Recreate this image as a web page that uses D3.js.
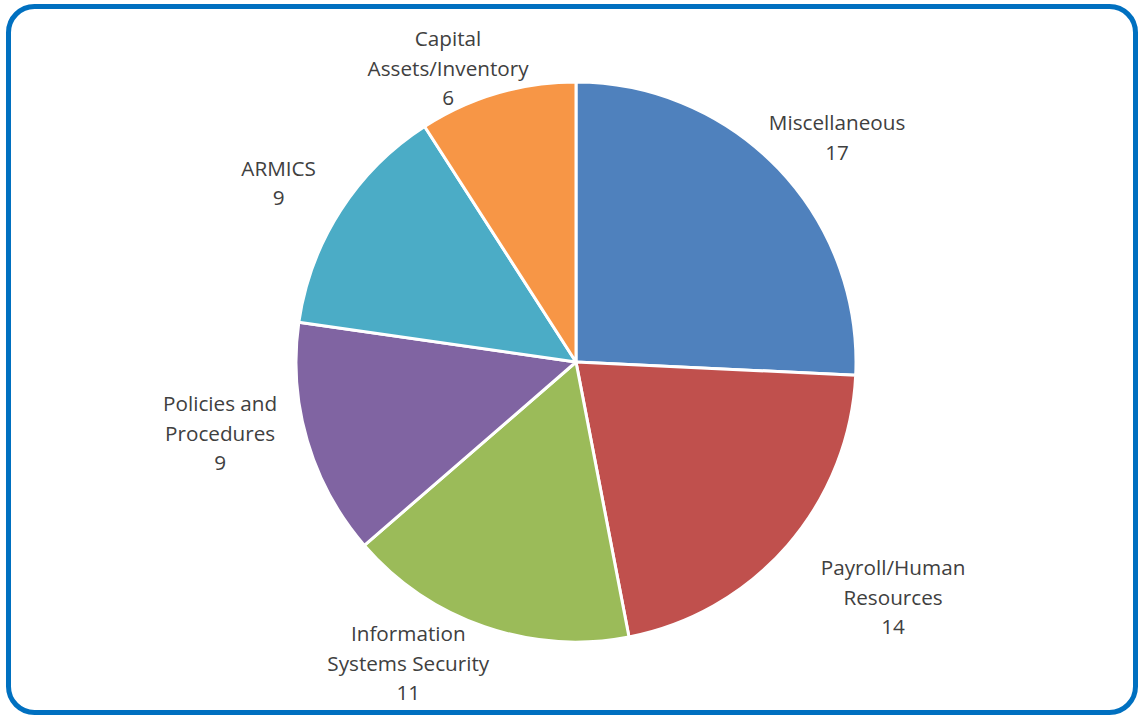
<!DOCTYPE html>
<html><head><meta charset="utf-8">
<script src="https://cdn.jsdelivr.net/npm/d3@7"></script>
<style>body{margin:0;background:#fff}svg{display:block}</style>
</head><body>
<svg id="c" width="1138" height="717"></svg>
<script>
const categories = ["Miscellaneous", "Payroll/Human Resources", "Information Systems Security", "Policies and Procedures", "ARMICS", "Capital Assets/Inventory"];
const labelLines = [["Miscellaneous"], ["Payroll/Human", "Resources"], ["Information", "Systems Security"], ["Policies and", "Procedures"], ["ARMICS"], ["Capital", "Assets/Inventory"]];
const values = [17, 14, 11, 9, 9, 6];
const colors = ["#4F81BD", "#C0504D", "#9BBB59", "#8064A2", "#4BACC6", "#F79646"];
// label placement: [angle offset in degrees from slice mid, radius]
const labelLayout = [[3, 344], [-4.3, 395], [10, 345], [5, 363], [-1.7, 347], [-7.2, 320]];

const svg = d3.select("#c");
svg.append("rect").attr("x", 8.5).attr("y", 6.5).attr("width", 1127).attr("height", 706)
  .attr("rx", 26).attr("fill", "#fff").attr("stroke", "#0070C0").attr("stroke-width", 5);

const cx = 576, cy = 362, r = 280;
const g = svg.append("g").attr("transform", `translate(${cx},${cy})`);
const pie = d3.pie().sort(null).value(d => d);
const arcs = pie(values);
const arc = d3.arc().innerRadius(0).outerRadius(r);
g.selectAll("path").data(arcs).join("path")
  .attr("d", arc).attr("fill", (d, i) => colors[i])
  .attr("stroke", "#fff").attr("stroke-width", 3).attr("stroke-linejoin", "round");

const lineH = 29.5;
arcs.forEach((d, i) => {
  const mid = (d.startAngle + d.endAngle) / 2 + labelLayout[i][0] * Math.PI / 180;
  const rr = labelLayout[i][1];
  const x = Math.sin(mid) * rr, y = -Math.cos(mid) * rr;
  const lines = labelLines[i].concat([String(values[i])]);
  const t = g.append("text").attr("text-anchor", "middle")
    .attr("font-family", "'Open Sans', 'Liberation Sans', sans-serif").attr("font-size", 20.7)
    .attr("fill", "#404040");
  const y0 = y - (lines.length - 1) * lineH / 2;
  lines.forEach((l, j) => {
    t.append("tspan").attr("x", x).attr("y", y0 + j * lineH).attr("dy", "0.35em").text(l);
  });
});
</script>
</body></html>
